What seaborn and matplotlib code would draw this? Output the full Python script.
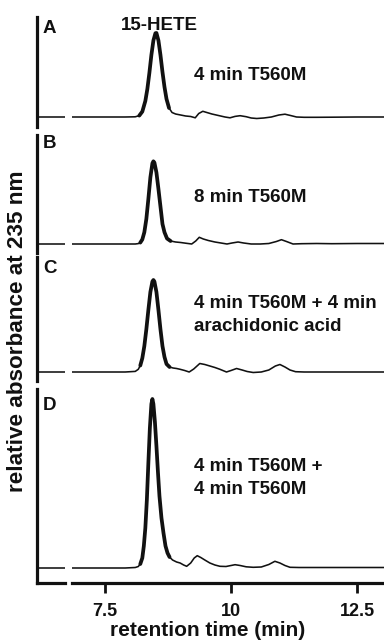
import numpy as np
import pandas as pd
import matplotlib
matplotlib.use("Agg")
import matplotlib.pyplot as plt
import seaborn as sns

# ---------------- data ----------------
time_A = [6.10, 6.50, 7.00, 7.50, 7.90, 8.10, 8.18, 8.24, 8.30, 8.34, 8.38, 8.42, 8.46, 8.50,
          8.52, 8.56, 8.60, 8.64, 8.68, 8.72, 8.77, 8.83, 8.90, 9.00, 9.10, 9.20, 9.29, 9.36,
          9.44, 9.52, 9.62, 9.75, 9.88, 9.98, 10.08, 10.18, 10.30, 10.40, 10.51, 10.65, 10.80,
          10.95, 11.07, 11.18, 11.30, 11.45, 11.70, 12.00, 12.50, 13.10]
abs_A = [0.0, 0.0, 0.0, 0.0, 0.0, 0.2, 1.4, 5.4, 16.0, 28.0, 44.0, 62.0, 76.5, 83.8,
         84.0, 76.5, 62.0, 45.0, 30.0, 18.0, 9.0, 4.5, 3.0, 2.0, 1.0, 0.5, -0.8, 3.5,
         5.7, 4.5, 3.0, 1.5, 0.0, -0.8, 0.6, 1.3, 0.3, -1.0, -1.5, -1.0, 0.0,
         2.0, 2.8, 1.5, 0.0, -0.3, -0.3, -0.2, 0.0, 0.0]

time_B = [6.10, 6.50, 7.00, 7.50, 7.90, 8.10, 8.16, 8.20, 8.24, 8.28, 8.32, 8.36, 8.40, 8.44,
          8.46, 8.48, 8.52, 8.56, 8.60, 8.64, 8.68, 8.73, 8.80, 8.90, 9.00, 9.10, 9.22, 9.30,
          9.37, 9.45, 9.55, 9.68, 9.80, 9.92, 10.02, 10.14, 10.25, 10.40, 10.58, 10.75, 10.90,
          11.00, 11.10, 11.23, 11.40, 11.70, 12.00, 12.50, 13.10]
abs_B = [0.0, 0.0, 0.0, 0.0, 0.0, 0.0, 0.4, 1.4, 4.5, 11.7, 25.0, 45.0, 66.6, 80.7,
         82.7, 81.4, 71.5, 55.0, 37.5, 20.0, 11.7, 5.5, 3.0, 2.0, 1.5, 0.8, 0.0, 3.0,
         6.7, 5.0, 3.5, 2.0, 1.0, 0.0, 1.0, 2.0, 1.0, 0.0, 0.0, 0.5, 2.5,
         4.3, 2.5, 0.0, 0.3, 0.5, 0.3, 0.5, 0.5]

time_C = [6.10, 6.50, 7.00, 7.50, 7.90, 8.10, 8.16, 8.20, 8.24, 8.28, 8.32, 8.36, 8.40, 8.44,
          8.46, 8.48, 8.52, 8.56, 8.60, 8.64, 8.68, 8.72, 8.78, 8.85, 8.92, 8.99, 9.08, 9.17,
          9.26, 9.38, 9.48, 9.58, 9.68, 9.78, 9.91, 10.00, 10.11, 10.22, 10.32, 10.44, 10.60,
          10.75, 10.88, 10.97, 11.07, 11.17, 11.28, 11.45, 11.70, 12.20, 12.70, 13.10]
abs_C = [0.0, 0.0, 0.0, 0.0, 0.0, 0.6, 2.7, 6.5, 13.8, 25.9, 42.7, 62.0, 80.0, 90.5,
         92.0, 90.5, 80.0, 62.0, 42.7, 25.9, 15.0, 8.0, 5.0, 4.0, 3.5, 2.7, 1.5, 0.0,
         3.0, 8.5, 7.5, 6.0, 4.5, 2.7, 0.0, 1.5, 3.5, 2.0, 0.5, -0.5, 0.0,
         2.0, 6.0, 7.5, 5.0, 2.0, 0.3, 0.0, 0.0, 0.0, 0.0, 0.0]

time_D = [6.10, 6.50, 7.00, 7.50, 7.90, 8.10, 8.16, 8.20, 8.24, 8.27, 8.30, 8.33, 8.36, 8.39,
          8.42, 8.44, 8.46, 8.49, 8.52, 8.55, 8.58, 8.62, 8.66, 8.70, 8.74, 8.78, 8.84, 8.92,
          8.99, 9.06, 9.12, 9.20, 9.27, 9.33, 9.40, 9.48, 9.58, 9.68, 9.78, 9.90, 10.00,
          10.08, 10.18, 10.30, 10.44, 10.60, 10.75, 10.87, 10.97, 11.07, 11.17, 11.35, 11.60,
          12.00, 12.50, 13.10]
abs_D = [0.0, 0.0, 0.0, 0.0, 0.0, 0.5, 1.5, 4.0, 10.0, 22.0, 40.0, 68.0, 105.0, 140.0,
         164.0, 169.0, 164.0, 146.0, 122.0, 96.0, 72.0, 50.0, 35.0, 22.0, 15.0, 11.0, 8.0, 6.0,
         5.0, 3.0, 1.7, 5.0, 10.0, 12.3, 10.5, 8.0, 5.0, 3.0, 1.7, 1.5, 2.5,
         3.3, 2.5, 1.2, 0.7, 1.0, 3.5, 6.7, 5.0, 2.5, 0.7, 0.5, 0.5,
         0.5, 0.5, 0.5]

panel_letters = ["A", "B", "C", "D"]
panel_notes = ["4 min T560M",
               "8 min T560M",
               "4 min T560M + 4 min\narachidonic acid",
               "4 min T560M +\n4 min T560M"]
peak_label = "15-HETE"
x_ticks = [7.5, 10, 12.5]
x_tick_labels = ["7.5", "10", "12.5"]
x_label = "retention time (min)"
y_label = "relative absorbance at 235 nm"

# ---------------- style ----------------
sns.set_style("white")
plt.rcParams['font.family'] = ['Liberation Sans', 'DejaVu Sans']
plt.rcParams['font.weight'] = 'bold'
INK = "#111111"

W, H = 384, 642
fig = plt.figure(figsize=(W / 100, H / 100), dpi=100)
fig.patch.set_facecolor("white")


def fx(px):
    return px / W


def fy(py):
    return 1 - py / H


# layout in pixels: (top, bottom, baseline, letter baseline, note baselines)
layout = [
    (17, 127, 117, 33, [80]),
    (135, 253, 244, 148, [202]),
    (257, 381, 372, 273, [308, 331]),
    (389, 583, 568, 410, [471, 494]),
]
traces = [(time_A, abs_A), (time_B, abs_B), (time_C, abs_C), (time_D, abs_D)]

LEFT_PX, BREAK_L, BREAK_R, RIGHT_PX = 37, 65, 72, 384
XLIM_LEFT = (6.15, 6.71)
XLIM_MAIN = (6.845, 13.035)
PEAK_WIN = (8.17, 8.80)
SPINE_LW = 2.3
THIN_LW = 1.15
THICK_LW = 2.7

for i, ((top, bot, base, let_y, note_ys), (t, h)) in enumerate(zip(layout, traces)):
    height = bot - top
    off = bot - base
    ylim = (-off, height - off)
    y0 = fy(bot)
    hh = height / H
    axL = fig.add_axes([fx(LEFT_PX), y0, (BREAK_L - LEFT_PX) / W, hh])
    axM = fig.add_axes([fx(BREAK_R), y0, (RIGHT_PX - BREAK_R) / W, hh])
    t_arr = np.asarray(t)
    h_arr = np.asarray(h)
    mask = (t_arr >= PEAK_WIN[0]) & (t_arr <= PEAK_WIN[1])
    for ax, xl in ((axL, XLIM_LEFT), (axM, XLIM_MAIN)):
        ax.set_facecolor("none")
        sns.lineplot(x=t_arr, y=h_arr, ax=ax, color=INK, linewidth=THIN_LW,
                     estimator=None, sort=False)
        sns.lineplot(x=t_arr[mask], y=h_arr[mask], ax=ax, color=INK,
                     linewidth=THICK_LW, estimator=None, sort=False,
                     solid_capstyle="round", solid_joinstyle="round")
        ax.set_xlim(*xl)
        ax.set_ylim(*ylim)
        ax.set_xlabel("")
        ax.set_ylabel("")
        ax.set_yticks([])
        for s in ("top", "right"):
            ax.spines[s].set_visible(False)
        ax.spines["bottom"].set_visible(i == 3)
        ax.spines["bottom"].set_linewidth(SPINE_LW)
        ax.spines["bottom"].set_color(INK)
    axL.spines["left"].set_linewidth(SPINE_LW)
    axL.spines["left"].set_color(INK)
    axM.spines["left"].set_visible(False)
    axL.set_xticks([])
    if i == 3:
        axM.set_xticks(x_ticks)
        axM.set_xticklabels(x_tick_labels, fontsize=13, fontweight="bold", color=INK)
        axM.tick_params(axis="x", direction="out", length=7.5, width=2.0,
                        color=INK, pad=7, bottom=True)
    else:
        axM.set_xticks([])

    fig.text(fx(43), fy(let_y), panel_letters[i], fontsize=13.5, fontweight="bold",
             color=INK, ha="left", va="baseline")
    for line, ly in zip(panel_notes[i].split("\n"), note_ys):
        fig.text(fx(194), fy(ly), line, fontsize=13.5, fontweight="bold",
                 color=INK, ha="left", va="baseline")

fig.text(fx(159.5), fy(30), peak_label, fontsize=13.5, fontweight="bold",
         color=INK, ha="center", va="baseline")
fig.text(fx(207.5), fy(630), x_label, fontsize=15, fontweight="bold",
         color=INK, ha="center", va="center")
fig.text(fx(18), fy(331), y_label, fontsize=16.2, fontweight="bold",
         color=INK, ha="center", va="center", rotation=90)

fig.savefig("out.png", dpi=100, facecolor="white")
